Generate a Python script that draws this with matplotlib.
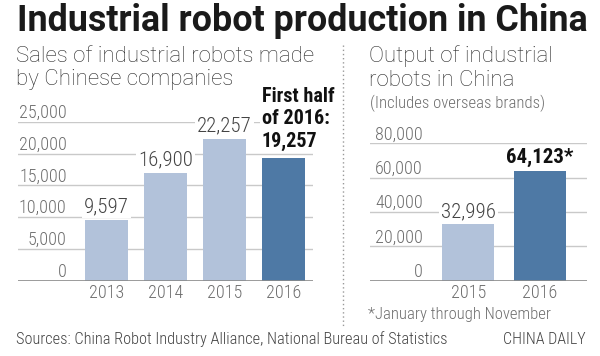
import numpy as np
import matplotlib
matplotlib.use("Agg")
import matplotlib.pyplot as plt

# sales by chinese companies
sales_years = ["2013", "2014", "2015", "2016"]
sales_values = [9597, 16900, 22257, 19257]
sales_ticks = [0, 5000, 10000, 15000, 20000, 25000]

# output in china (incl. overseas brands)
output_years = ["2015", "2016"]
output_values = [32996, 64123]
output_ticks = [0, 20000, 40000, 60000, 80000]

LIGHT = "#b2c2da"
DARK = "#4e79a5"
GRID = "#c9c9c9"
TICK = "#6e6e6e"
COND = "Roboto Condensed"

W, H = 600, 356
fig = plt.figure(figsize=(6, 3.56), dpi=100)


def px(x0, x1, ytop, ybot):
    # pixel box -> figure fraction rect
    return [x0 / W, 1 - ybot / H, (x1 - x0) / W, (ybot - ytop) / H]


def tick_fmt(v):
    return "{:,}".format(v)


def draw_panel(ax, labels, values, ticks, colors, lab_x):
    idx = np.arange(len(labels))
    ax.bar(idx, values, width=0.73, color=colors, zorder=2)
    for t in ticks[1:]:
        ax.axhline(t, color=GRID, lw=1, zorder=1)
    ax.axhline(0, color="#8a8a8a", lw=1.2, zorder=3)
    for t in ticks:
        ax.text(lab_x, t, tick_fmt(t), transform=ax.get_yaxis_transform(),
                ha="right", va="bottom", fontsize=13, color=TICK,
                family=COND, fontweight="light", zorder=4)
    for i, lab in enumerate(labels):
        ax.annotate(lab, (i, 0), xytext=(0, -8.5), textcoords="offset points",
                    ha="center", va="center", fontsize=13, color=TICK,
                    family=COND, fontweight="light", annotation_clip=False)
    ax.set_ylim(0, ticks[-1])
    for s in ax.spines.values():
        s.set_visible(False)
    ax.set_xticks([])
    ax.set_yticks([])
    ax.patch.set_alpha(0)


# left panel
ax1 = fig.add_axes(px(18, 313, 121.7, 280.7))
ax1.set_xlim(-1.497, 3.503)
draw_panel(ax1, sales_years, sales_values, sales_ticks,
           [LIGHT, LIGHT, LIGHT, DARK], 0.165)
for i in range(3):
    ax1.annotate(tick_fmt(sales_values[i]), (i, sales_values[i]), xytext=(0, 9.5),
                 textcoords="offset points", ha="center", va="center",
                 fontsize=15, color="#444444", family=COND, fontweight="light",
                 zorder=5, bbox=dict(fc="white", ec="none", pad=1.5))
# "First half of 2016: 19,257" note, anchored above the 2016 bar
note = ["First half", "of 2016:", tick_fmt(sales_values[3])]
for k, line in enumerate(note):
    ax1.annotate(line, (3 - 0.365, 25000), xytext=(0, 18.5 - 16.2 * k),
                 textcoords="offset points", ha="left", va="center",
                 fontsize=14.5, fontweight="bold", family=COND, color="#111111",
                 zorder=5, annotation_clip=False,
                 bbox=dict(fc="white", ec="none", pad=1))

# right panel
ax2 = fig.add_axes(px(370, 586.7, 143.3, 280.7))
ax2.set_xlim(-1.373, 1.657)
draw_panel(ax2, output_years, output_values, output_ticks, [LIGHT, DARK], 0.245)
ax2.annotate(tick_fmt(output_values[0]), (0, output_values[0]), xytext=(0, 9),
             textcoords="offset points", ha="center", va="center", fontsize=15,
             color="#444444", family=COND, fontweight="light", zorder=5,
             bbox=dict(fc="white", ec="none", pad=1.5))
ax2.annotate(tick_fmt(output_values[1]) + "*", (1, output_values[1]),
             xytext=(0, 9.5), textcoords="offset points", ha="center",
             va="center", fontsize=15, fontweight="bold", color="#111111",
             family=COND, zorder=5)

# headings
fig.text(17 / W, 1 - 21 / H, "Industrial robot production in China",
         fontsize=25.8, fontweight="bold", family="Roboto", color="#1a1a1a",
         ha="left", va="center")
sub = dict(fontsize=16, family="Roboto", fontweight="light", color="#2b2b2b",
           ha="left", va="center")
fig.text(16 / W, 1 - 56 / H, "Sales of industrial robots made", **sub)
fig.text(16 / W, 1 - 80 / H, "by Chinese companies", **sub)
fig.text(369 / W, 1 - 56 / H, "Output of industrial", **sub)
fig.text(369 / W, 1 - 80 / H, "robots in China", **sub)
fig.text(370 / W, 1 - 103 / H, "(Includes overseas brands)",
         fontsize=12, family=COND, fontweight="light", color=TICK,
         ha="left", va="center")

fig.text(368 / W, 1 - 315 / H, "*January through November",
         fontsize=12, family=COND, fontweight="light", color=TICK,
         ha="left", va="center")
fig.text(16 / W, 1 - 339 / H,
         "Sources: China Robot Industry Alliance, National Bureau of Statistics",
         fontsize=11.8, family=COND, fontweight="light", color="#444444",
         ha="left", va="center")
fig.text(586 / W, 1 - 339 / H, "CHINA DAILY", fontsize=11.5, family=COND,
         fontweight="light", color="#444444", ha="right", va="center")

# dotted separator
fig.add_artist(plt.Line2D([343 / W, 343 / W], [1 - 45 / H, 1 - 328 / H],
                          transform=fig.transFigure, color="#999999",
                          lw=1, ls=(0, (1, 2))))

fig.savefig("out.png", dpi=100)
